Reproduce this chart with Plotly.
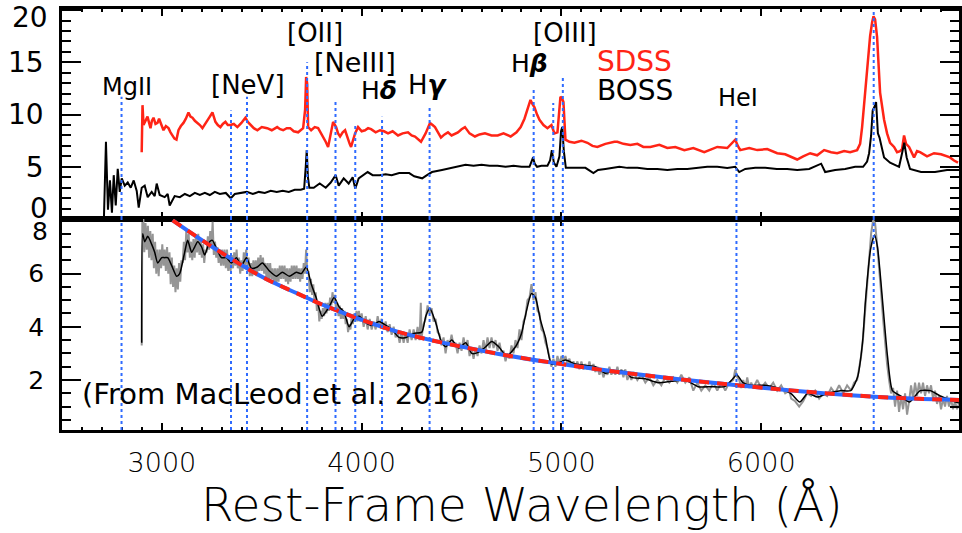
import plotly.graph_objects as go

# ---------------- data ----------------
sdss_wave = [2899, 2903, 2908, 2918, 2928, 2936, 2943, 2950, 2958, 2968, 2978, 2986, 2993, 3000, 3008, 3020, 3033, 3043,
             3053, 3063, 3073, 3083, 3095, 3108, 3120, 3133, 3143, 3153, 3165, 3178, 3190, 3203, 3215, 3228, 3240,
             3253, 3268, 3280, 3293, 3305, 3318, 3330, 3343, 3360, 3378, 3398, 3418, 3430, 3443, 3460, 3478, 3500,
             3527, 3550, 3577, 3592, 3607, 3625, 3642, 3660, 3682, 3695, 3707, 3717, 3722, 3727, 3732, 3747, 3765,
             3782, 3795, 3807, 3820, 3832, 3845, 3857, 3872, 3882, 3892, 3905, 3917, 3925, 3932, 3940, 3947, 3957,
             3967, 3982, 4000, 4017, 4032, 4047, 4070, 4092, 4112, 4132, 4155, 4182, 4205, 4232, 4250, 4267, 4282,
             4297, 4320, 4342, 4355, 4367, 4382, 4397, 4415, 4432, 4450, 4467, 4482, 4500, 4517, 4540, 4567, 4590,
             4617, 4650, 4681, 4710, 4746, 4775, 4796, 4815, 4830, 4845, 4855, 4865, 4878, 4890, 4910, 4930, 4950,
             4965, 4980, 4995, 5002, 5010, 5020, 5040, 5065, 5100, 5130, 5155, 5180, 5220, 5265, 5280, 5310, 5345,
             5380, 5410, 5445, 5490, 5530, 5570, 5615, 5660, 5715, 5750, 5780, 5830, 5870, 5883, 5895, 5940, 5980,
             6030, 6080, 6120, 6165, 6180, 6210, 6245, 6280, 6315, 6350, 6380, 6415, 6445, 6480, 6495, 6505, 6518,
             6530, 6545, 6555, 6562, 6570, 6580, 6595, 6615, 6630, 6645, 6665, 6680, 6695, 6705, 6715, 6725, 6740,
             6765, 6780, 6795, 6830, 6865, 6900, 6945, 6965, 6985]
sdss_flux = [6.4, 10.9, 9.0, 9.5, 9.8, 9.2, 8.7, 9.4, 9.7, 9.1, 9.2, 9.6, 9.3, 8.9, 8.5, 8.9, 8.7, 8.3,
             8.0, 7.7, 7.6, 8.5, 8.9, 9.2, 9.6, 10.2, 9.8, 9.7, 9.4, 9.2, 9.0, 8.7, 9.1, 9.5, 9.8,
             10.2, 9.3, 9.0, 8.8, 9.1, 9.3, 9.0, 9.0, 9.1, 8.8, 9.2, 9.7, 9.3, 9.0, 8.7, 8.5, 8.8,
             8.7, 8.5, 8.8, 8.6, 8.5, 8.7, 8.7, 8.4, 8.3, 8.5, 8.7, 10.5, 13.6, 13.0, 8.8, 8.5, 8.8,
             8.7, 8.3, 7.9, 7.4, 6.9, 8.0, 9.3, 8.8, 8.2, 7.9, 8.3, 8.5, 8.0, 7.8, 7.2, 6.9, 7.6,
             8.2, 8.8, 8.4, 8.5, 8.7, 8.6, 8.3, 8.5, 8.4, 8.2, 8.4, 8.0, 8.2, 8.3, 8.0, 7.9, 7.6,
             7.4, 8.2, 9.2, 9.0, 8.8, 8.3, 7.8, 8.1, 8.3, 8.0, 8.2, 8.3, 8.6, 8.8, 8.2, 7.9, 8.1,
             8.2, 8.0, 8.0, 8.2, 7.9, 8.3, 8.8, 9.6, 10.4, 11.4, 11.0, 10.7, 10.0, 9.5, 9.0, 8.7, 9.0,
             8.2, 8.3, 11.7, 11.6, 11.2, 7.6, 7.4, 7.3, 7.5, 7.3, 7.0, 6.9, 7.2, 7.4, 7.4, 7.2, 7.1,
             7.2, 6.9, 6.9, 7.1, 6.8, 6.9, 6.6, 6.8, 6.4, 6.7, 6.9, 6.8, 7.6, 7.0, 6.6, 6.8, 6.6,
             6.7, 6.3, 6.2, 5.8, 5.7, 6.0, 6.3, 6.1, 6.6, 6.4, 6.3, 6.5, 6.4, 6.6, 7.2, 8.8, 11.5,
             14.6, 17.5, 18.8, 19.4, 19.1, 17.4, 12.1, 9.5, 8.2, 7.3, 6.9, 6.4, 6.5, 6.7, 8.0, 7.2, 6.9,
             5.9, 6.5, 6.4, 6.0, 6.3, 6.2, 5.9, 5.6, 5.4]

boss_wave = [2710, 2720, 2730, 2740, 2750, 2759, 2769, 2779, 2789, 2799, 2814, 2829, 2844, 2859, 2874, 2884,
             2899, 2914, 2929, 2949, 2964, 2974, 2989, 3014, 3029, 3039, 3064, 3090, 3115, 3140, 3165, 3190,
             3215, 3240, 3265, 3290, 3320, 3345, 3365, 3395, 3425, 3455, 3485, 3515, 3545, 3575, 3605, 3635,
             3665, 3695, 3712, 3720, 3725, 3731, 3738, 3760, 3790, 3820, 3845, 3870, 3885, 3910, 3935, 3955,
             3968, 3985, 4005, 4030, 4055, 4090, 4120, 4150, 4188, 4238, 4263, 4303, 4327, 4352, 4402, 4452,
             4486, 4520, 4560, 4600, 4640, 4680, 4720, 4760, 4800, 4840, 4852, 4858, 4866, 4878, 4900, 4930,
             4943, 4952, 4962, 4975, 4990, 4998, 5004, 5012, 5022, 5050, 5080, 5120, 5160, 5183, 5220, 5260,
             5290, 5330, 5380, 5430, 5480, 5530, 5580, 5630, 5680, 5730, 5780, 5830, 5870, 5890, 5920, 5970,
             6020, 6078, 6130, 6180, 6240, 6285, 6300, 6320, 6370, 6420, 6470, 6510, 6530, 6540, 6550, 6558,
             6566, 6575, 6584, 6592, 6615, 6645, 6690, 6705, 6716, 6728, 6745, 6800, 6870, 6930, 6990]
boss_flux = [0.2, 7.4, 0.9, 3.7, 0.6, 4.2, 1.3, 4.8, 2.6, 3.9, 3.2, 3.5, 3.0, 3.7, 2.7, 1.1,
             3.0, 3.2, 2.1, 2.6, 2.2, 3.4, 2.3, 2.1, 2.4, 1.3, 2.2, 2.1, 2.4, 2.2, 2.5, 2.3,
             2.5, 2.3, 2.6, 2.4, 2.5, 2.0, 2.4, 2.5, 2.6, 2.4, 2.6, 2.5, 2.7, 2.6, 2.7, 2.6,
             2.8, 2.8, 2.9, 5.0, 6.6, 4.0, 3.0, 3.0, 3.4, 3.0, 3.5, 4.2, 3.2, 3.9, 3.4, 4.0,
             2.9, 3.9, 4.2, 4.5, 4.2, 4.2, 4.3, 4.2, 4.4, 4.4, 4.1, 3.9, 4.2, 4.5, 4.7, 4.9,
             5.0, 5.2, 5.1, 5.2, 5.1, 5.1, 5.0, 5.1, 5.0, 5.0, 5.6, 5.9, 5.3, 5.0, 5.1, 5.1,
             5.6, 6.6, 5.4, 5.0, 6.0, 8.4, 8.8, 6.5, 4.9, 4.9, 4.9, 4.9, 4.4, 4.7, 4.8, 4.9,
             5.0, 4.9, 4.9, 4.8, 4.8, 4.7, 4.8, 4.8, 4.9, 5.0, 5.0, 4.9, 5.0, 4.5, 4.8, 4.9,
             4.9, 4.8, 4.8, 4.7, 4.8, 5.2, 5.3, 4.5, 4.7, 4.8, 5.0, 5.0, 5.5, 6.3, 8.0, 10.4,
             10.7, 11.2, 8.2, 7.8, 5.9, 5.4, 5.0, 6.3, 7.3, 5.9, 4.8, 4.5, 4.5, 4.7, 4.7]

diff_raw_wave = [2899, 2902, 2907, 2912, 2918, 2924, 2930, 2936, 2942, 2948, 2954, 2960, 2966, 2972, 2978, 2984,
                 2990, 2996, 3002, 3008, 3014, 3020, 3026, 3032, 3038, 3044, 3050, 3056, 3062, 3068, 3074, 3080,
                 3086, 3092, 3098, 3104, 3110, 3116, 3122, 3128, 3134, 3140, 3146, 3152, 3158, 3164, 3170, 3176,
                 3182, 3188, 3194, 3200, 3206, 3212, 3218, 3224, 3230, 3236, 3242, 3248, 3254, 3260, 3266, 3272,
                 3278, 3284, 3290, 3296, 3302, 3308, 3314, 3320, 3326, 3332, 3338, 3344, 3350, 3356, 3362, 3368,
                 3374, 3380, 3386, 3392, 3398, 3404, 3410, 3416, 3422, 3428, 3434, 3440, 3446, 3452, 3458, 3464,
                 3470, 3476, 3482, 3488, 3494, 3500, 3506, 3512, 3518, 3524, 3530, 3536, 3542, 3548, 3554, 3560,
                 3566, 3572, 3578, 3584, 3590, 3596, 3602, 3608, 3614, 3620, 3626, 3632, 3638, 3644, 3650, 3656,
                 3662, 3668, 3674, 3680, 3686, 3692, 3698, 3704, 3710, 3716, 3722, 3728, 3734, 3740, 3746, 3752,
                 3758, 3764, 3770, 3776, 3782, 3788, 3794, 3800, 3806, 3812, 3818, 3824, 3830, 3836, 3842, 3848,
                 3854, 3860, 3866, 3872, 3878, 3884, 3890, 3896, 3902, 3908, 3914, 3920, 3926, 3932, 3938, 3944,
                 3950, 3956, 3962, 3968, 3974, 3980, 3986, 3992, 4000, 4010, 4020, 4030, 4040, 4050, 4060, 4070,
                 4080, 4090, 4100, 4110, 4120, 4130, 4140, 4150, 4160, 4170, 4180, 4190, 4200, 4210, 4220, 4230,
                 4240, 4250, 4260, 4270, 4280, 4290, 4296, 4300, 4310, 4320, 4330, 4340, 4350, 4360, 4370, 4380,
                 4390, 4400, 4410, 4420, 4430, 4440, 4450, 4460, 4470, 4480, 4490, 4500, 4510, 4520, 4530, 4540,
                 4550, 4560, 4570, 4580, 4590, 4600, 4610, 4620, 4630, 4640, 4650, 4660, 4670, 4680, 4690, 4700,
                 4710, 4720, 4730, 4740, 4750, 4760, 4770, 4780, 4790, 4800, 4810, 4820, 4830, 4840, 4850, 4860,
                 4870, 4880, 4890, 4900, 4910, 4920, 4930, 4940, 4950, 4960, 4970, 4980, 4990, 5000, 5010, 5020,
                 5030, 5040, 5050, 5060, 5070, 5080, 5090, 5100, 5110, 5120, 5130, 5140, 5150, 5160, 5170, 5180,
                 5190, 5200, 5210, 5220, 5230, 5240, 5250, 5260, 5270, 5280, 5290, 5300, 5310, 5320, 5330, 5340,
                 5350, 5360, 5380, 5400, 5420, 5440, 5460, 5480, 5500, 5520, 5540, 5560, 5580, 5600, 5620, 5640,
                 5660, 5680, 5700, 5720, 5740, 5760, 5780, 5800, 5820, 5840, 5860, 5870, 5880, 5890, 5900, 5910,
                 5920, 5930, 5940, 5950, 5960, 5980, 6000, 6020, 6040, 6060, 6080, 6100, 6120, 6140, 6150, 6170,
                 6190, 6210, 6230, 6250, 6270, 6290, 6310, 6330, 6350, 6370, 6390, 6410, 6430, 6450, 6465, 6480,
                 6490, 6500, 6510, 6520, 6530, 6540, 6550, 6560, 6570, 6580, 6590, 6600, 6610, 6620, 6630, 6640,
                 6650, 6660, 6670, 6680, 6690, 6700, 6710, 6720, 6730, 6740, 6750, 6760, 6770, 6780, 6790, 6800,
                 6810, 6820, 6830, 6840, 6850, 6860, 6870, 6880, 6890, 6900, 6910, 6920, 6930, 6940, 6950, 6960,
                 6970, 6980, 6990]
diff_raw_flux = [3.3, 7.9, 8.1, 6.8, 7.9, 6.9, 7.8, 6.6, 7.6, 6.5, 7.5, 6.2, 7.2, 6.0, 6.9, 5.9,
                 6.9, 6.2, 7.1, 6.3, 6.9, 6.1, 7.0, 6.0, 6.8, 5.6, 6.6, 5.5, 6.3, 5.3, 6.2, 5.4,
                 6.4, 5.7, 6.5, 6.4, 7.2, 6.5, 7.6, 6.8, 7.5, 6.6, 7.2, 6.5, 7.3, 6.6, 7.4, 6.8,
                 7.5, 6.7, 7.3, 6.6, 7.1, 6.4, 6.9, 6.8, 7.4, 6.9, 7.6, 7.0, 7.95, 6.7, 7.2, 6.6,
                 7.0, 6.4, 6.9, 6.3, 6.9, 6.3, 6.9, 6.2, 6.9, 6.1, 6.7, 6.1, 6.7, 6.2, 6.8, 6.3,
                 6.9, 6.2, 6.6, 6.0, 6.5, 6.1, 6.8, 6.3, 6.9, 6.3, 6.6, 5.9, 6.4, 5.9, 6.5, 6.0,
                 6.5, 5.9, 6.6, 6.1, 6.7, 6.1, 6.6, 6.0, 6.4, 5.8, 6.4, 5.8, 6.4, 5.8, 6.2, 5.6,
                 6.2, 5.6, 6.2, 5.7, 6.3, 5.8, 6.3, 5.8, 6.3, 5.7, 6.2, 5.6, 6.2, 5.7, 6.3, 5.8,
                 6.3, 5.8, 6.3, 5.8, 6.2, 5.7, 6.2, 5.8, 6.4, 6.0, 6.9, 6.0, 6.1, 5.3, 5.8, 5.2,
                 5.6, 4.9, 5.3, 4.6, 4.9, 4.2, 4.6, 4.3, 4.7, 4.4, 4.9, 4.5, 4.9, 4.6, 5.1, 4.8,
                 5.3, 4.9, 5.2, 4.6, 4.9, 4.4, 4.8, 4.3, 4.7, 4.3, 4.6, 4.1, 4.3, 3.8, 4.1, 3.9,
                 4.4, 4.1, 4.5, 4.2, 4.6, 4.2, 4.6, 4.2, 4.5, 4.0, 4.4, 3.9, 4.3, 3.9, 4.2, 3.9,
                 4.4, 4.0, 4.3, 3.9, 4.2, 3.8, 4.1, 3.7, 4.0, 3.6, 3.8, 3.4, 3.8, 3.4, 3.8, 3.4,
                 3.9, 3.5, 3.9, 3.5, 4.0, 3.5, 4.9, 3.6, 4.1, 4.3, 4.8, 4.5, 4.7, 4.2, 4.3, 3.8,
                 3.7, 3.3, 3.6, 3.0, 3.5, 3.3, 3.7, 3.3, 3.4, 3.0, 3.4, 3.1, 3.6, 3.2, 3.5, 2.9,
                 3.2, 2.8, 3.2, 2.9, 3.3, 3.0, 3.5, 3.1, 3.6, 3.2, 3.6, 3.2, 3.5, 3.1, 3.4, 3.0,
                 3.1, 2.7, 3.0, 2.8, 3.3, 3.0, 3.5, 3.2, 3.9, 3.5, 4.2, 4.4, 5.0, 5.1, 5.6, 5.0,
                 5.3, 4.6, 4.5, 3.9, 3.8, 3.4, 3.2, 2.8, 2.5, 2.8, 2.5, 2.9, 2.6, 2.9, 2.7, 2.9,
                 2.6, 2.8, 2.5, 2.7, 2.5, 2.7, 2.4, 2.7, 2.4, 2.6, 2.4, 2.7, 2.4, 2.6, 2.3, 2.5,
                 2.2, 2.4, 2.1, 2.3, 2.2, 2.5, 2.2, 2.4, 2.2, 2.5, 2.2, 2.4, 2.1, 2.4, 2.0, 2.2,
                 2.0, 2.3, 2.0, 2.2, 1.9, 2.1, 1.8, 2.0, 1.8, 2.1, 1.9, 2.1, 1.9, 2.2, 1.9, 2.1,
                 1.6, 1.9, 1.6, 1.8, 1.6, 1.9, 1.6, 1.9, 1.6, 1.9, 2.0, 2.4, 2.1, 2.0, 1.7, 2.0,
                 1.7, 2.1, 1.7, 1.9, 1.7, 2.0, 1.7, 1.9, 1.7, 1.9, 1.6, 1.8, 1.5, 1.6, 1.3, 1.2,
                 1.0, 1.2, 1.5, 1.4, 1.6, 1.3, 1.5, 1.4, 1.7, 1.5, 1.8, 1.5, 1.8, 1.6, 1.9, 2.0,
                 2.5, 2.9, 3.6, 4.6, 5.6, 6.7, 7.5, 8.0, 7.9, 7.1, 6.3, 5.3, 4.3, 3.3, 2.6, 2.0,
                 1.5, 1.7, 1.0, 1.6, 0.8, 1.4, 0.9, 1.5, 0.7, 1.2, 1.8, 1.3, 1.9, 1.4, 1.9, 1.5,
                 1.9, 1.4, 1.8, 1.5, 1.8, 1.3, 1.6, 1.1, 1.4, 0.9, 1.3, 1.0, 1.4, 1.0, 1.3, 0.9,
                 1.2, 0.9, 1.1]

diff_smooth_wave = [2899, 2904, 2914, 2929, 2949, 2964, 2979, 2999, 3014, 3029, 3049, 3074, 3089, 3114, 3129,
                    3149, 3164, 3179, 3199, 3214, 3239, 3253, 3273, 3298, 3323, 3348, 3373, 3398, 3423, 3448,
                    3478, 3503, 3538, 3573, 3603, 3638, 3673, 3698, 3723, 3748, 3772, 3802, 3837, 3862, 3887,
                    3912, 3937, 3962, 3987, 4022, 4052, 4087, 4122, 4152, 4187, 4222, 4261, 4301, 4321, 4341,
                    4371, 4396, 4421, 4451, 4486, 4521, 4551, 4586, 4621, 4651, 4686, 4726, 4770, 4800, 4825,
                    4850, 4870, 4895, 4920, 4950, 4985, 5020, 5070, 5120, 5170, 5220, 5269, 5324, 5349, 5419,
                    5484, 5549, 5619, 5684, 5748, 5818, 5858, 5878, 5908, 5948, 6018, 6083, 6148, 6193, 6233,
                    6282, 6332, 6397, 6447, 6482, 6507, 6522, 6547, 6567, 6582, 6607, 6632, 6657, 6697, 6742,
                    6766, 6796, 6846, 6896, 6946, 6990]
diff_smooth_flux = [3.4, 7.5, 7.2, 7.4, 7.1, 6.8, 6.4, 6.6, 6.6, 6.6, 6.3, 5.9, 6.0, 6.8, 7.25,
                    6.8, 7.0, 7.2, 7.0, 6.7, 7.2, 7.25, 6.95, 6.6, 6.6, 6.4, 6.6, 6.3, 6.6, 6.2,
                    6.25, 6.4, 6.1, 5.9, 6.05, 5.9, 6.05, 6.0, 6.25, 5.6, 5.1, 4.4, 4.75, 5.1, 4.75,
                    4.55, 4.0, 4.3, 4.4, 4.15, 4.05, 4.2, 4.05, 3.9, 3.6, 3.6, 3.75, 3.8, 4.4, 4.7,
                    4.15, 3.5, 3.25, 3.5, 3.2, 3.4, 3.0, 3.05, 3.25, 3.45, 3.25, 2.9, 3.25, 3.75, 4.6,
                    5.25, 5.1, 4.25, 3.6, 2.6, 2.65, 2.75, 2.6, 2.55, 2.5, 2.25, 2.35, 2.3, 2.1, 2.05,
                    1.9, 1.95, 2.0, 1.75, 1.75, 1.75, 2.05, 2.2, 1.9, 1.8, 1.8, 1.7, 1.5, 1.17, 1.5,
                    1.36, 1.5, 1.6, 1.6, 2.1, 3.4, 5.0, 6.9, 7.45, 7.0, 5.0, 2.9, 1.6, 1.4, 1.17,
                    1.36, 1.6, 1.6, 1.4, 1.25, 1.13]

fit_wave = [3054, 3253, 3503, 3673, 3837, 4187, 4686, 5000, 5284, 5878, 6567, 6990]
fit_flux = [8.0, 7.0, 5.87, 5.27, 4.73, 3.8, 2.98, 2.6, 2.3, 1.8, 1.37, 1.25]

line_names = ["MgII", "[NeV]", "[NeV]", "[OII]", "[NeIII]", "[NeIII]", "Hδ", "Hγ", "Hβ", "[OIII]", "[OIII]", "HeI", "Hα"]
line_wave = [2798, 3346, 3426, 3727, 3869, 3968, 4102, 4340, 4861, 4959, 5007, 5876, 6563]
line_top = [11.7, 10.4, 11.7, 15.0, 11.2, 9.0, 9.8, 10.9, 12.4, 11.1, 13.6, 9.5, 20.1]

label_text = ["MgII", "[NeV]", "[OII]", "[NeIII]", "H<b><i>δ</i></b>", "H<b><i>γ</i></b>", "H<b><i>β</i></b>", "[OIII]", "HeI"]
label_x = [2824, 3431, 3767, 3967, 4087, 4334, 4840, 5020, 5883]
label_y = [12.6, 12.8, 17.8, 15.0, 12.3, 12.8, 14.9, 17.8, 11.6]
label_size = [24, 26, 26, 27, 25, 26, 25, 26, 24]

top_ticks = [0, 5, 10, 15, 20]
bot_ticks = [2, 4, 6, 8]
x_ticks = [3000, 4000, 5000, 6000]

# ---------------- figure ----------------
FONT = "DejaVu Sans"
RED = "#ff2416"
BLUE = "#2f6bff"

fig = go.Figure()
fig.add_trace(go.Scatter(x=sdss_wave, y=sdss_flux, xaxis="x", yaxis="y", mode="lines",
                         line=dict(color=RED, width=2.5), name="SDSS"))
fig.add_trace(go.Scatter(x=boss_wave, y=boss_flux, xaxis="x", yaxis="y", mode="lines",
                         line=dict(color="black", width=2), name="BOSS"))
fig.add_trace(go.Scatter(x=diff_raw_wave, y=diff_raw_flux, xaxis="x2", yaxis="y2", mode="lines",
                         line=dict(color="#959595", width=2), name="diff"))
fig.add_trace(go.Scatter(x=diff_smooth_wave, y=diff_smooth_flux, xaxis="x2", yaxis="y2", mode="lines",
                         line=dict(color="black", width=1.5, shape="spline", smoothing=0.6), name="smoothed"))
fig.add_trace(go.Scatter(x=fit_wave, y=fit_flux, xaxis="x2", yaxis="y2", mode="lines",
                         line=dict(color=BLUE, width=4, shape="spline"), name="fit"))
fig.add_trace(go.Scatter(x=fit_wave, y=fit_flux, xaxis="x2", yaxis="y2", mode="lines",
                         line=dict(color=RED, width=4, shape="spline", dash="10px,8px"), name="fit2"))

shapes = []
for w, top in zip(line_wave, line_top):
    shapes.append(dict(type="line", xref="x", yref="y", x0=w, x1=w, y0=0, y1=top,
                       line=dict(color=BLUE, width=2, dash="dot")))
    shapes.append(dict(type="line", xref="x2", yref="y2 domain", x0=w, x1=w, y0=0, y1=1,
                       line=dict(color=BLUE, width=2, dash="dot")))

ann = []
for t, x, y, s in zip(label_text, label_x, label_y, label_size):
    ann.append(dict(text=t, x=x, y=y, xref="x", yref="y", showarrow=False,
                    font=dict(family=FONT, size=s, color="black")))
ann.append(dict(text="SDSS", x=5170, y=15.1, xref="x", yref="y", xanchor="left", showarrow=False,
                font=dict(family=FONT, size=28, color=RED)))
ann.append(dict(text="BOSS", x=5170, y=12.3, xref="x", yref="y", xanchor="left", showarrow=False,
                font=dict(family=FONT, size=28, color="black")))
ann.append(dict(text="(From MacLeod et al. 2016)", x=2590, y=1.47, xref="x2", yref="y2", xanchor="left",
                showarrow=False, font=dict(family=FONT, size=29, color="black")))
# end-of-axis tick labels, placed inward as in the original
ann.append(dict(text="0", x=0, y=1.0, xref="paper", yref="y", xanchor="right", xshift=-12,
                showarrow=False, font=dict(family=FONT, size=28, color="black")))
ann.append(dict(text="20", x=0, y=19.3, xref="paper", yref="y", xanchor="right", xshift=-12,
                showarrow=False, font=dict(family=FONT, size=28, color="black")))
ann.append(dict(text="8", x=0, y=7.6, xref="paper", yref="y2", xanchor="right", xshift=-12,
                showarrow=False, font=dict(family=FONT, size=25, color="black")))
ann.append(dict(text="Rest-Frame Wavelength (Å)", x=0.513, y=-0.176, xref="paper", yref="paper",
                xanchor="center", yanchor="middle",
                showarrow=False, font=dict(family=FONT, size=47, color="black", weight=200)))

axis_common = dict(showline=True, linecolor="black", linewidth=2.5, ticks="inside", tickcolor="black",
                   tickwidth=2, mirror="ticks", showgrid=False, zeroline=False)

x_range = [2500, 6990]
fig.update_layout(
    width=962, height=533,
    margin=dict(l=62, r=0, t=9, b=103),
    paper_bgcolor="white", plot_bgcolor="white",
    showlegend=False,
    shapes=shapes, annotations=ann,
    xaxis=dict(**axis_common, domain=[0, 1], anchor="y", range=x_range, tickmode="array", tickvals=x_ticks,
               ticklen=7, showticklabels=False,
               minor=dict(ticks="inside", dtick=100, tick0=0, ticklen=3.5, tickwidth=1.5, tickcolor="black")),
    xaxis2=dict(**axis_common, domain=[0, 1], anchor="y2", range=x_range, matches="x", tickmode="array",
                tickvals=x_ticks, ticktext=[str(v) for v in x_ticks], ticklen=7, ticklabelstandoff=7,
                tickfont=dict(family=FONT, size=27, color="black", weight=200),
                minor=dict(ticks="inside", dtick=100, tick0=0, ticklen=3.5, tickwidth=1.5, tickcolor="black")),
    yaxis=dict(**axis_common, domain=[0.501, 1], anchor="x", range=[0, 20.1], tickmode="array",
               tickvals=top_ticks, ticktext=["", "5", "10", "15", ""], ticklen=19, ticklabelstandoff=10,
               tickfont=dict(family=FONT, size=28, color="black"),
               minor=dict(ticks="inside", dtick=1, tick0=0, ticklen=9, tickwidth=2, tickcolor="black")),
    yaxis2=dict(**axis_common, domain=[0, 0.501], anchor="x2", range=[0.12, 8.05], tickmode="array",
                tickvals=bot_ticks, ticktext=["2", "4", "6", ""], ticklen=19, ticklabelstandoff=10,
                tickfont=dict(family=FONT, size=25, color="black"),
                minor=dict(ticks="inside", dtick=0.5, tick0=0, ticklen=9, tickwidth=2, tickcolor="black")),
)

fig.write_html("out.html")
